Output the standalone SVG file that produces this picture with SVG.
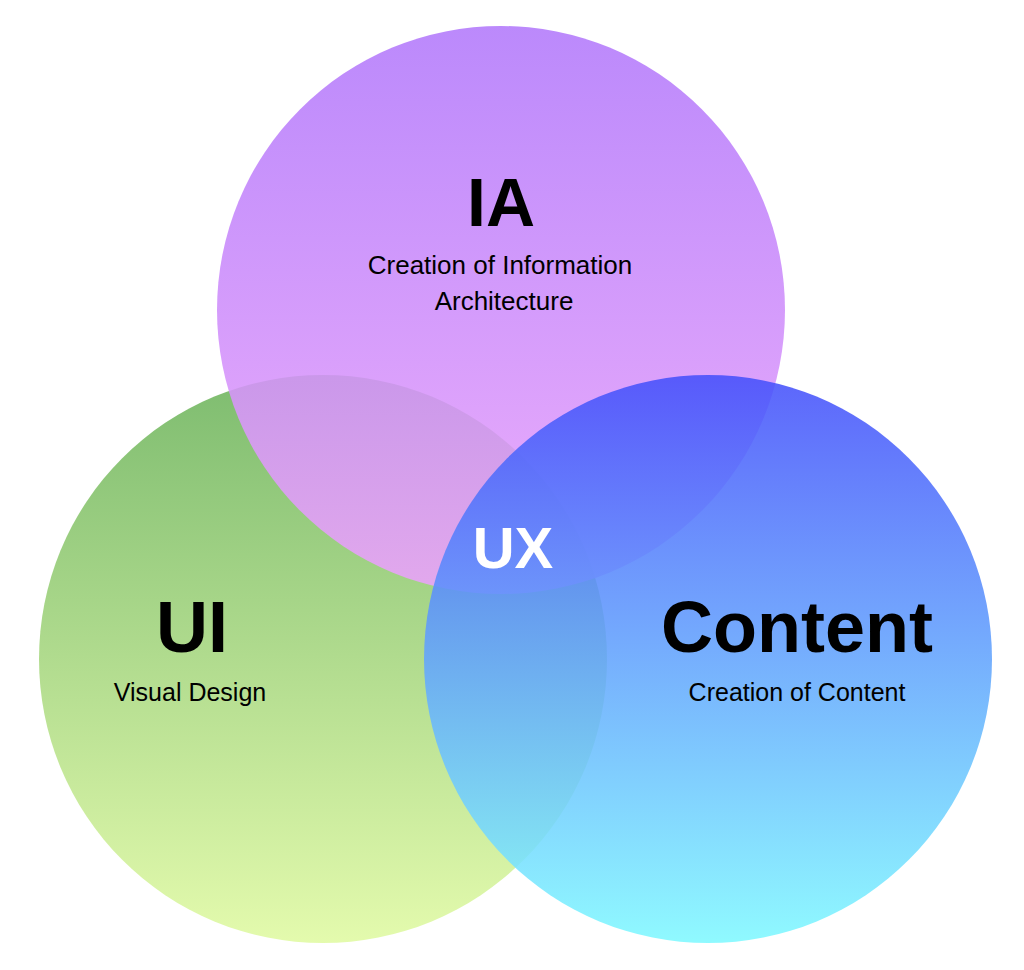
<svg xmlns="http://www.w3.org/2000/svg" width="1024" height="970" viewBox="0 0 1024 970">
<defs>
<linearGradient id="gIA" x1="0" y1="0" x2="0" y2="1"><stop offset="0" stop-color="#b279fb"/><stop offset="1" stop-color="#eba3fb"/></linearGradient>
<linearGradient id="gUI" x1="0" y1="0" x2="0" y2="1"><stop offset="0" stop-color="#6cb35c"/><stop offset="1" stop-color="#e0faa2"/></linearGradient>
<linearGradient id="gC" x1="0" y1="0" x2="0" y2="1"><stop offset="0" stop-color="#4650fb"/><stop offset="1" stop-color="#80f9ff"/></linearGradient>
<style>
.c{opacity:0.88}
.t{font-family:"Liberation Sans",Arial,sans-serif;text-anchor:middle;fill:#000}
.b{font-weight:bold}
</style>
</defs>
<rect width="1024" height="970" fill="#fff"/>
<g id="ui"><circle class="c" cx="323" cy="659" r="284" fill="url(#gUI)"/></g>
<g id="ia"><circle class="c" cx="501" cy="310" r="284" fill="url(#gIA)"/></g>
<g id="content"><circle class="c" cx="708" cy="659" r="284" fill="url(#gC)"/></g>
<g id="connectors"/>
<g id="labels">
<text class="t b" x="501" y="226" font-size="68">IA</text>
<text class="t" x="500" y="274" font-size="26">Creation of Information</text>
<text class="t" x="504" y="310" font-size="26">Architecture</text>
<text class="t b" x="192" y="652" font-size="72">UI</text>
<text class="t" x="190" y="701" font-size="25">Visual Design</text>
<text class="t b" x="797" y="652" font-size="72">Content</text>
<text class="t" x="797" y="701" font-size="25">Creation of Content</text>
<text class="t b" x="513" y="568" font-size="58" fill="#fff" style="fill:#fff">UX</text>
</g>
</svg>
